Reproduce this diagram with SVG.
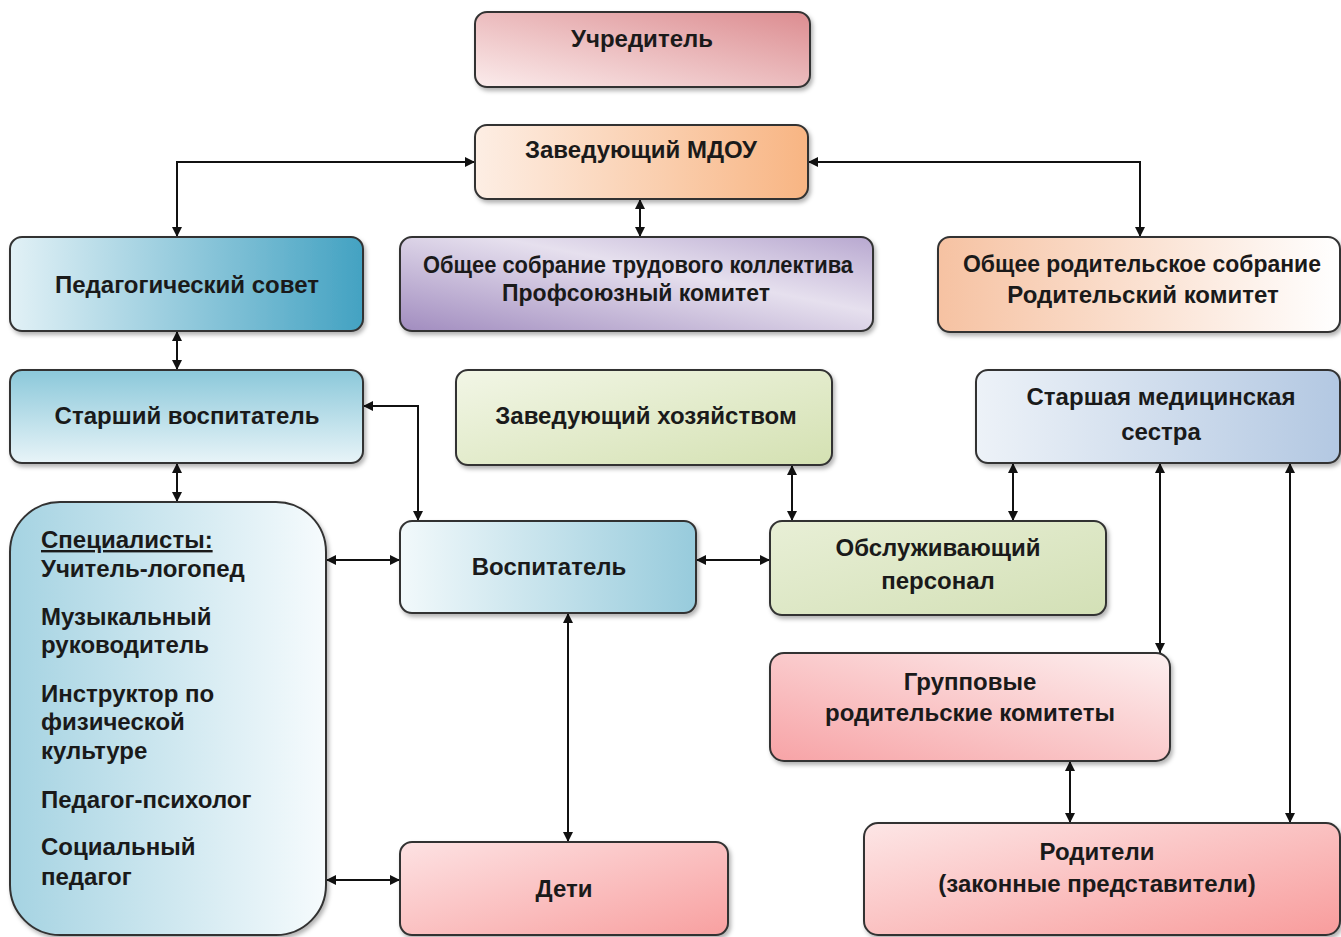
<svg xmlns="http://www.w3.org/2000/svg" width="1341" height="937" viewBox="0 0 1341 937">
<defs>
<style>
.box{stroke:#333;stroke-width:2;filter:url(#sh)}
.t{font-family:"Liberation Sans",Arial,sans-serif;font-weight:bold;font-size:24px;fill:#1a1a1a;text-anchor:middle}
.tl{font-family:"Liberation Sans",Arial,sans-serif;font-weight:bold;font-size:24px;fill:#1a1a1a}
.c{fill:none;stroke:#111;stroke-width:2;marker-start:url(#a);marker-end:url(#a)}
</style>
<filter id="sh" x="-5%" y="-5%" width="115%" height="120%"><feDropShadow dx="2" dy="3" stdDeviation="2" flood-color="#000" flood-opacity="0.3"/></filter>
<marker id="a" viewBox="0 0 10 10" refX="10" refY="5" markerWidth="11" markerHeight="10" orient="auto-start-reverse" markerUnits="userSpaceOnUse"><path d="M0,0 L10,5 L0,10 z" fill="#111"/></marker>
<linearGradient id="gU" x1="0" y1="1" x2="1" y2="0"><stop offset="0" stop-color="#fbecec"/><stop offset="1" stop-color="#dc8c90"/></linearGradient>
<linearGradient id="gZ" x1="0" y1="0" x2="1" y2="0"><stop offset="0" stop-color="#fdeee4"/><stop offset="1" stop-color="#f8b583"/></linearGradient>
<linearGradient id="gP" x1="0" y1="0" x2="1" y2="0"><stop offset="0" stop-color="#e2f1f6"/><stop offset="1" stop-color="#43a2c2"/></linearGradient>
<linearGradient id="gO" x1="0" y1="1" x2="1" y2="0"><stop offset="0" stop-color="#a18cbf"/><stop offset="0.6" stop-color="#e6e0ee"/><stop offset="1" stop-color="#b8a8d0"/></linearGradient>
<linearGradient id="gR" x1="0" y1="0" x2="1" y2="0"><stop offset="0" stop-color="#f6c2a2"/><stop offset="1" stop-color="#ffffff"/></linearGradient>
<linearGradient id="gS" x1="0" y1="0" x2="0" y2="1"><stop offset="0" stop-color="#8bc8da"/><stop offset="1" stop-color="#e8f4f8"/></linearGradient>
<linearGradient id="gH" x1="0" y1="0" x2="1" y2="1"><stop offset="0" stop-color="#f2f6e6"/><stop offset="1" stop-color="#d4e1b2"/></linearGradient>
<linearGradient id="gM" x1="0" y1="0" x2="1" y2="0"><stop offset="0" stop-color="#edf2f8"/><stop offset="1" stop-color="#b3c8e2"/></linearGradient>
<linearGradient id="gSp" x1="0" y1="0" x2="1" y2="0"><stop offset="0" stop-color="#a5d3e2"/><stop offset="1" stop-color="#f6fbfd"/></linearGradient>
<linearGradient id="gV" x1="0" y1="0" x2="1" y2="0"><stop offset="0" stop-color="#f2f9fb"/><stop offset="1" stop-color="#97cbdc"/></linearGradient>
<linearGradient id="gOb" x1="0" y1="0" x2="1" y2="1"><stop offset="0" stop-color="#e8efd6"/><stop offset="1" stop-color="#d3e0b6"/></linearGradient>
<linearGradient id="gG" x1="0" y1="1" x2="1" y2="0"><stop offset="0" stop-color="#f7a3a6"/><stop offset="1" stop-color="#fdf0f0"/></linearGradient>
<linearGradient id="gRo" x1="0" y1="0" x2="1" y2="1"><stop offset="0" stop-color="#fde6e6"/><stop offset="1" stop-color="#f89c9c"/></linearGradient>
<linearGradient id="gD" x1="0" y1="0" x2="1" y2="1"><stop offset="0" stop-color="#fde2e3"/><stop offset="1" stop-color="#f8a0a0"/></linearGradient>
</defs>
<rect width="1341" height="937" fill="#ffffff"/>

<g id="connectors">
<path class="c" d="M475,162 H177 V237"/>
<path class="c" d="M808,162 H1140 V237"/>
<path class="c" d="M640,199 V237"/>
<path class="c" d="M177,331 V370"/>
<path class="c" d="M177,463 V502"/>
<path class="c" d="M363,406 H418 V521"/>
<path class="c" d="M326,560 H400"/>
<path class="c" d="M696,560 H770"/>
<path class="c" d="M792,465 V521"/>
<path class="c" d="M1013,463 V521"/>
<path class="c" d="M1160,463 V653"/>
<path class="c" d="M1290,463 V823"/>
<path class="c" d="M1070,761 V823"/>
<path class="c" d="M568,613 V842"/>
<path class="c" d="M326,880 H400"/>
</g>

<g id="uchreditel"><rect class="box" x="475" y="12" width="335" height="75" rx="12" fill="url(#gU)"/><text class="t" x="642" y="47">Учредитель</text></g>
<g id="zav-mdou"><rect class="box" x="475" y="125" width="333" height="74" rx="12" fill="url(#gZ)"/><text class="t" x="641" y="158">Заведующий МДОУ</text></g>
<g id="ped-sovet"><rect class="box" x="10" y="237" width="353" height="94" rx="12" fill="url(#gP)"/><text class="t" x="187" y="293">Педагогический совет</text></g>
<g id="obshee-sobranie"><rect class="box" x="400" y="237" width="473" height="94" rx="12" fill="url(#gO)"/><text class="t" x="638" y="273" textLength="430" lengthAdjust="spacingAndGlyphs">Общее собрание трудового коллектива</text><text class="t" x="636" y="301" textLength="268" lengthAdjust="spacingAndGlyphs">Профсоюзный комитет</text></g>
<g id="rod-sobranie"><rect class="box" x="938" y="237" width="402" height="95" rx="12" fill="url(#gR)"/><text class="t" x="1142" y="272" textLength="358" lengthAdjust="spacingAndGlyphs">Общее родительское собрание</text><text class="t" x="1143" y="303">Родительский комитет</text></g>
<g id="st-vospitatel"><rect class="box" x="10" y="370" width="353" height="93" rx="12" fill="url(#gS)"/><text class="t" x="187" y="424">Старший воспитатель</text></g>
<g id="zav-hoz"><rect class="box" x="456" y="370" width="376" height="95" rx="12" fill="url(#gH)"/><text class="t" x="646" y="424">Заведующий хозяйством</text></g>
<g id="med-sestra"><rect class="box" x="976" y="370" width="364" height="93" rx="12" fill="url(#gM)"/><text class="t" x="1161" y="405">Старшая медицинская</text><text class="t" x="1161" y="440">сестра</text></g>
<g id="specialisty"><rect class="box" x="10" y="502" width="316" height="433" rx="50" fill="url(#gSp)"/>
<text class="tl" x="41" y="548" text-decoration="underline">Специалисты:</text>
<text class="tl" x="41" y="577">Учитель-логопед</text>
<text class="tl" x="41" y="625">Музыкальный</text>
<text class="tl" x="41" y="653">руководитель</text>
<text class="tl" x="41" y="702">Инструктор по</text>
<text class="tl" x="41" y="730">физической</text>
<text class="tl" x="41" y="759">культуре</text>
<text class="tl" x="41" y="808">Педагог-психолог</text>
<text class="tl" x="41" y="855">Социальный</text>
<text class="tl" x="41" y="885">педагог</text></g>
<g id="vospitatel"><rect class="box" x="400" y="521" width="296" height="92" rx="12" fill="url(#gV)"/><text class="t" x="549" y="575">Воспитатель</text></g>
<g id="obsluzh"><rect class="box" x="770" y="521" width="336" height="94" rx="12" fill="url(#gOb)"/><text class="t" x="938" y="556">Обслуживающий</text><text class="t" x="938" y="589">персонал</text></g>
<g id="gruppovye"><rect class="box" x="770" y="653" width="400" height="108" rx="14" fill="url(#gG)"/><text class="t" x="970" y="690">Групповые</text><text class="t" x="970" y="721">родительские комитеты</text></g>
<g id="roditeli"><rect class="box" x="864" y="823" width="476" height="112" rx="14" fill="url(#gRo)"/><text class="t" x="1097" y="860">Родители</text><text class="t" x="1097" y="892">(законные представители)</text></g>
<g id="deti"><rect class="box" x="400" y="842" width="328" height="93" rx="12" fill="url(#gD)"/><text class="t" x="564" y="897">Дети</text></g>
</svg>
